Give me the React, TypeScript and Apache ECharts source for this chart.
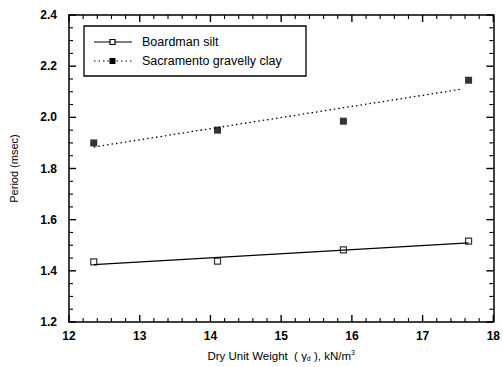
import React, { useEffect, useRef } from "react";
import * as echarts from "echarts";

const seriesNames = ["Boardman silt", "Sacramento gravelly clay"];
const dryUnitWeight = [12.35, 14.1, 15.88, 17.65];
const boardmanPeriod = [1.435, 1.438, 1.482, 1.516];
const sacramentoPeriod = [1.9, 1.95, 1.985, 2.145];
const boardmanFit = [[12.35, 1.424], [17.65, 1.509]];
const sacramentoFit = [[12.35, 1.884], [17.55, 2.11]];
const xTicks = [12, 13, 14, 15, 16, 17, 18];
const yTicks = [1.2, 1.4, 1.6, 1.8, 2.0, 2.2, 2.4];
const xMinorPerMajor = 5;
const yMinorPerMajor = 4;

const FONT = "'Liberation Sans', Arial, sans-serif";

function minorValues(ticks: number[], parts: number): number[] {
  const out: number[] = [];
  for (let i = 0; i < ticks.length - 1; i++) {
    const step = (ticks[i + 1] - ticks[i]) / parts;
    for (let j = 1; j < parts; j++) out.push(ticks[i] + step * j);
  }
  return out;
}

export default function App() {
  const ref = useRef<HTMLDivElement>(null);
  useEffect(() => {
    if (!ref.current) return;
    const chart = echarts.init(ref.current, null, { renderer: "svg" });
    const xMin = xTicks[0], xMax = xTicks[xTicks.length - 1];
    const yMin = yTicks[0], yMax = yTicks[yTicks.length - 1];
    const xMinor = minorValues(xTicks, xMinorPerMajor);
    const yMinor = minorValues(yTicks, yMinorPerMajor);
    const mkLine = () => ({ show: true, onZero: false, lineStyle: { color: "#000", width: 1.5 } });
    const labelStyle = { color: "#000", fontFamily: FONT, fontSize: 12, fontWeight: "bold" };

    const renderTicks = (params: any, api: any) => {
      const children: any[] = [];
      const add = (x1: number, y1: number, x2: number, y2: number, w: number) =>
        children.push({ type: "line", shape: { x1, y1, x2, y2 }, style: { stroke: "#000", lineWidth: w } });
      const xs: [number, number, number][] = [
        ...xTicks.map((v) => [v, 7, 1.4] as [number, number, number]),
        ...xMinor.map((v) => [v, 4, 1.1] as [number, number, number]),
      ];
      xs.forEach(([v, len, w]) => {
        const b = api.coord([v, yMin]);
        const t = api.coord([v, yMax]);
        add(b[0], b[1], b[0], b[1] - len, w);
        add(t[0], t[1], t[0], t[1] + len, w);
      });
      const ys: [number, number, number][] = [
        ...yTicks.map((v) => [v, 7, 1.4] as [number, number, number]),
        ...yMinor.map((v) => [v, 4, 1.1] as [number, number, number]),
      ];
      ys.forEach(([v, len, w]) => {
        const l = api.coord([xMin, v]);
        const r = api.coord([xMax, v]);
        add(l[0], l[1], l[0] + len, l[1], w);
        add(r[0], r[1], r[0] - len, r[1], w);
      });
      return { type: "group", children };
    };

    chart.setOption({
      animation: false,
      backgroundColor: "#fff",
      grid: { left: 68, right: 7, top: 15, bottom: 43 },
      xAxis: [
        {
          type: "value", position: "bottom", min: xMin, max: xMax, interval: 1,
          axisLine: mkLine(), axisTick: { show: false }, minorTick: { show: false },
          splitLine: { show: false },
          axisLabel: { ...labelStyle, margin: 8 },
          name: "{a|Dry Unit Weight  ( γ}{s|d}{a| ), kN/m}{p|3}",
          nameLocation: "middle", nameGap: 27,
          nameTextStyle: {
            rich: {
              a: { fontFamily: FONT, fontSize: 11.5, color: "#000" },
              s: { fontFamily: FONT, fontSize: 7, color: "#000", verticalAlign: "bottom", padding: [6, 0, 0, 0] },
              p: { fontFamily: FONT, fontSize: 7, color: "#000", verticalAlign: "top", padding: [0, 0, 6, 0] },
            },
          },
        },
        {
          type: "value", position: "top", min: xMin, max: xMax, interval: 1,
          axisLine: mkLine(), axisTick: { show: false }, splitLine: { show: false }, axisLabel: { show: false },
        },
      ],
      yAxis: [
        {
          type: "value", position: "left", min: yMin, max: yMax, interval: 0.2,
          axisLine: mkLine(), axisTick: { show: false }, minorTick: { show: false },
          splitLine: { show: false },
          axisLabel: { ...labelStyle, margin: 12, formatter: (v: number) => v.toFixed(1) },
          name: "Period (msec)", nameLocation: "middle", nameGap: 50,
          nameTextStyle: { fontFamily: FONT, fontSize: 11, color: "#000" },
        },
        {
          type: "value", position: "right", min: yMin, max: yMax, interval: 0.2,
          axisLine: mkLine(), axisTick: { show: false }, splitLine: { show: false }, axisLabel: { show: false },
        },
      ],
      series: [
        {
          name: "ticks", type: "custom", xAxisIndex: 0, yAxisIndex: 0, silent: true, clip: false, z: 10,
          data: [[xMin, yMin]], renderItem: renderTicks,
        },
        {
          name: seriesNames[0] + " fit", type: "line", data: boardmanFit, symbol: "none",
          lineStyle: { color: "#000", width: 1.3 }, silent: true,
        },
        {
          name: seriesNames[1] + " fit", type: "line", data: sacramentoFit, symbol: "none",
          lineStyle: { color: "#000", width: 1.3, type: [1.5, 3] }, silent: true,
        },
        {
          name: seriesNames[0], type: "scatter", symbol: "rect", symbolSize: 6,
          data: dryUnitWeight.map((x, i) => [x, boardmanPeriod[i]]),
          itemStyle: { color: "#fff", borderColor: "#000", borderWidth: 1.2 },
        },
        {
          name: seriesNames[1], type: "scatter", symbol: "rect", symbolSize: 7,
          data: dryUnitWeight.map((x, i) => [x, sacramentoPeriod[i]]),
          itemStyle: { color: "#000" },
        },
      ],
      graphic: [
        { type: "rect", shape: { x: 84, y: 26, width: 222, height: 50 }, style: { fill: "#fff", stroke: "#000", lineWidth: 1.3 }, z: 100 },
        { type: "line", shape: { x1: 94, y1: 42, x2: 132, y2: 42 }, style: { stroke: "#000", lineWidth: 1.2 }, z: 101 },
        { type: "rect", shape: { x: 110, y: 39.5, width: 5, height: 5 }, style: { fill: "#fff", stroke: "#000", lineWidth: 1.2 }, z: 102 },
        { type: "text", x: 142, y: 42, style: { text: seriesNames[0], fontFamily: FONT, fontSize: 12.5, fill: "#000", verticalAlign: "middle" }, z: 101 },
        { type: "line", shape: { x1: 94, y1: 61, x2: 132, y2: 61 }, style: { stroke: "#000", lineWidth: 1.2, lineDash: [1.5, 3] }, z: 101 },
        { type: "rect", shape: { x: 109.5, y: 58, width: 6, height: 6 }, style: { fill: "#000" }, z: 102 },
        { type: "text", x: 142, y: 61, style: { text: seriesNames[1], fontFamily: FONT, fontSize: 12.5, fill: "#000", verticalAlign: "middle" }, z: 101 },
      ],
    });
    return () => chart.dispose();
  }, []);
  return <div ref={ref} style={{ width: 503, height: 367, position: "absolute", left: 0, top: 0 }} />;
}
